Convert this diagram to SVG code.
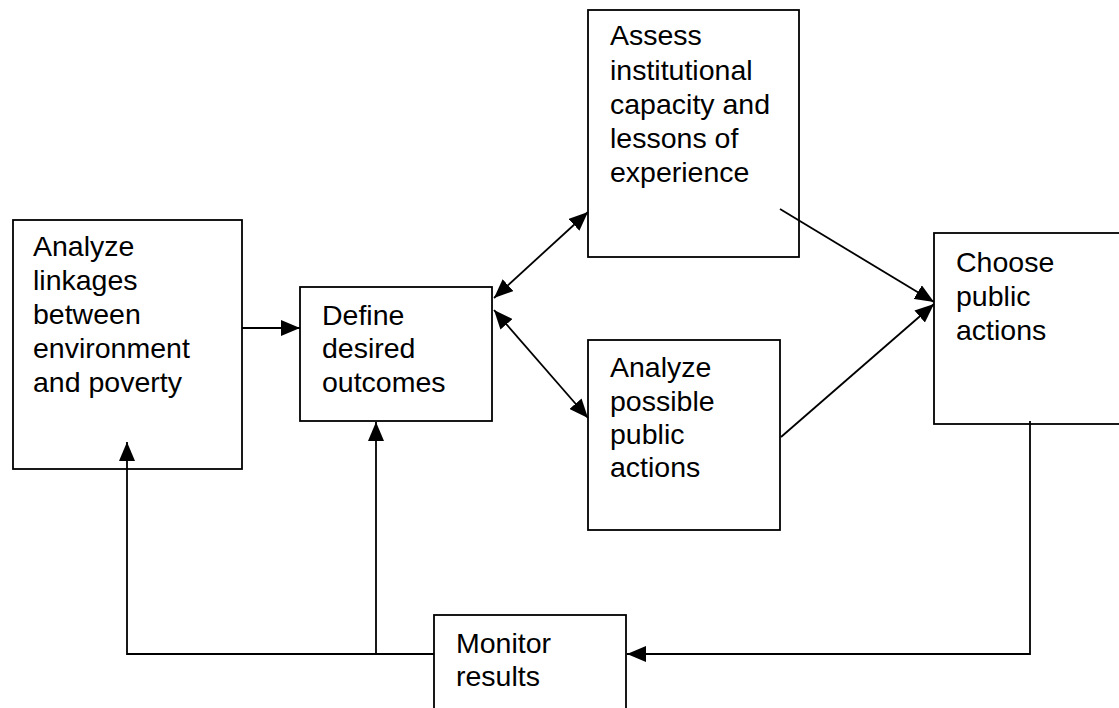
<svg xmlns="http://www.w3.org/2000/svg" width="1119" height="708" viewBox="0 0 1119 708">
<style>
.box{fill:#fff;stroke:#000;stroke-width:1.8}
.t{font-family:"Liberation Sans",Arial,sans-serif;font-size:28.5px;fill:#000}
.c{fill:none;stroke:#000;stroke-width:1.8}
</style>
<defs>
<marker id="ah" markerUnits="userSpaceOnUse" markerWidth="20" markerHeight="16" refX="19" refY="8" orient="auto-start-reverse">
<path d="M0,0 L19,8 L0,16 z" fill="#000"/>
</marker>
</defs>
<rect width="1119" height="708" fill="#fff"/>
<g id="n1">
<rect class="box" x="13" y="220" width="229" height="249"/>
<text class="t" x="33"><tspan x="33" y="256">Analyze</tspan><tspan x="33" y="290">linkages</tspan><tspan x="33" y="324">between</tspan><tspan x="33" y="358">environment</tspan><tspan x="33" y="392">and poverty</tspan></text>
</g>
<g id="n2">
<rect class="box" x="300" y="287" width="192" height="134"/>
<text class="t"><tspan x="322" y="325">Define</tspan><tspan x="322" y="358">desired</tspan><tspan x="322" y="392">outcomes</tspan></text>
</g>
<g id="n3">
<rect class="box" x="588" y="10" width="211" height="247"/>
<text class="t"><tspan x="610" y="45">Assess</tspan><tspan x="610" y="80">institutional</tspan><tspan x="610" y="114">capacity and</tspan><tspan x="610" y="148">lessons of</tspan><tspan x="610" y="182">experience</tspan></text>
</g>
<g id="n4">
<rect class="box" x="588" y="340" width="192" height="190"/>
<text class="t"><tspan x="610" y="377">Analyze</tspan><tspan x="610" y="411">possible</tspan><tspan x="610" y="444">public</tspan><tspan x="610" y="477">actions</tspan></text>
</g>
<g id="n5">
<rect class="box" x="934" y="233" width="200" height="191"/>
<text class="t"><tspan x="956" y="272">Choose</tspan><tspan x="956" y="306">public</tspan><tspan x="956" y="340">actions</tspan></text>
</g>
<g id="n6">
<rect class="box" x="434" y="615" width="192" height="110"/>
<text class="t"><tspan x="456" y="653">Monitor</tspan><tspan x="456" y="686">results</tspan></text>
</g>
<g id="connectors">
<line class="c" x1="242" y1="328" x2="300" y2="328" marker-end="url(#ah)"/>
<line class="c" x1="494" y1="298" x2="588" y2="212" marker-start="url(#ah)" marker-end="url(#ah)"/>
<line class="c" x1="494" y1="310" x2="588" y2="418" marker-start="url(#ah)" marker-end="url(#ah)"/>
<line class="c" x1="780" y1="209" x2="934" y2="302" marker-end="url(#ah)"/>
<line class="c" x1="781" y1="437" x2="934" y2="304" marker-end="url(#ah)"/>
<path class="c" d="M1030,421 V654 H627" marker-end="url(#ah)"/>
<path class="c" d="M434,654 H127 V442" marker-end="url(#ah)"/>
<path class="c" d="M376,654 V422" marker-end="url(#ah)"/>
</g>
</svg>
